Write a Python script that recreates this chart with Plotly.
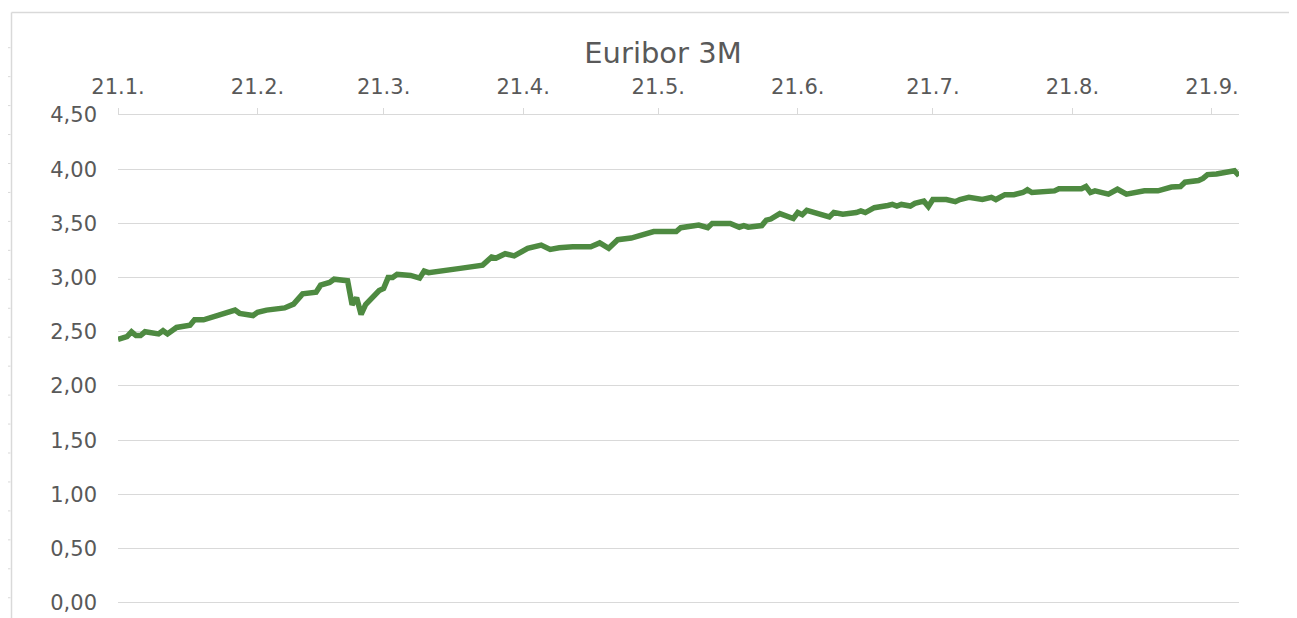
import plotly.graph_objects as go

title_text = "Euribor 3M"

dates = [
    "2023-01-21", "2023-01-23", "2023-01-24", "2023-01-25", "2023-01-26", "2023-01-27",
    "2023-01-30", "2023-01-31", "2023-02-01", "2023-02-03", "2023-02-06", "2023-02-07",
    "2023-02-09", "2023-02-13", "2023-02-16", "2023-02-17", "2023-02-20", "2023-02-21",
    "2023-02-23", "2023-02-27", "2023-03-01", "2023-03-03", "2023-03-06", "2023-03-07",
    "2023-03-09", "2023-03-10", "2023-03-13", "2023-03-14", "2023-03-15", "2023-03-16",
    "2023-03-17", "2023-03-20", "2023-03-21", "2023-03-22", "2023-03-23", "2023-03-24",
    "2023-03-27", "2023-03-29", "2023-03-30", "2023-03-31", "2023-04-04", "2023-04-06",
    "2023-04-07", "2023-04-12", "2023-04-14", "2023-04-15", "2023-04-17", "2023-04-19",
    "2023-04-22", "2023-04-25", "2023-04-27", "2023-04-29", "2023-05-02", "2023-05-06",
    "2023-05-08", "2023-05-10", "2023-05-12", "2023-05-15", "2023-05-17", "2023-05-18",
    "2023-05-20", "2023-05-25", "2023-05-26", "2023-05-30", "2023-06-01", "2023-06-02",
    "2023-06-06", "2023-06-08", "2023-06-09", "2023-06-10", "2023-06-13", "2023-06-14",
    "2023-06-15", "2023-06-17", "2023-06-20", "2023-06-21", "2023-06-22", "2023-06-23",
    "2023-06-28", "2023-06-29", "2023-07-01", "2023-07-04", "2023-07-05", "2023-07-06",
    "2023-07-08", "2023-07-11", "2023-07-12", "2023-07-13", "2023-07-14", "2023-07-16",
    "2023-07-17", "2023-07-19", "2023-07-20", "2023-07-21", "2023-07-24", "2023-07-26",
    "2023-07-27", "2023-07-29", "2023-08-01", "2023-08-03", "2023-08-04", "2023-08-06",
    "2023-08-08", "2023-08-10", "2023-08-11", "2023-08-12", "2023-08-15", "2023-08-17",
    "2023-08-18", "2023-08-23", "2023-08-24", "2023-08-25", "2023-08-26", "2023-08-29",
    "2023-08-31", "2023-09-02", "2023-09-06", "2023-09-09", "2023-09-12", "2023-09-14",
    "2023-09-15", "2023-09-18", "2023-09-19", "2023-09-20", "2023-09-22", "2023-09-23",
    "2023-09-25", "2023-09-26", "2023-09-27",
]

rates = [
    2.43, 2.456, 2.50, 2.465, 2.465, 2.50,
    2.48, 2.51, 2.48, 2.54, 2.56, 2.61,
    2.61, 2.66, 2.70, 2.67, 2.65, 2.68,
    2.70, 2.72, 2.755, 2.85, 2.865, 2.93,
    2.955, 2.985, 2.97, 2.75, 2.815, 2.66,
    2.75, 2.88, 2.90, 3.00, 3.00, 3.03,
    3.02, 2.995, 3.06, 3.045, 3.065, 3.07,
    3.085, 3.115, 3.19, 3.18, 3.22, 3.20,
    3.27, 3.30, 3.26, 3.275, 3.285, 3.285,
    3.32, 3.27, 3.35, 3.365, 3.39, 3.39,
    3.425, 3.425, 3.46, 3.485, 3.46, 3.50,
    3.50, 3.465, 3.48, 3.465, 3.48, 3.53,
    3.54, 3.59, 3.545, 3.60, 3.58, 3.62,
    3.56, 3.60, 3.585, 3.60, 3.615, 3.60,
    3.645, 3.665, 3.675, 3.66, 3.675, 3.66,
    3.685, 3.705, 3.655, 3.72, 3.72, 3.70,
    3.72, 3.74, 3.72, 3.74, 3.72, 3.765,
    3.765, 3.785, 3.81, 3.785, 3.80, 3.80,
    3.82, 3.82, 3.84, 3.785, 3.80, 3.77,
    3.815, 3.77, 3.80, 3.80, 3.835, 3.84,
    3.88, 3.895, 3.915, 3.95, 3.955, 3.96,
    3.975, 3.985, 3.94,
]

x_tick_dates = ["2023-01-21", "2023-02-21", "2023-03-21", "2023-04-21", "2023-05-21",
                "2023-06-21", "2023-07-21", "2023-08-21", "2023-09-21"]
x_tick_labels = ["21.1.", "21.2.", "21.3.", "21.4.", "21.5.", "21.6.", "21.7.", "21.8.", "21.9."]

y_tick_values = [0, 0.5, 1.0, 1.5, 2.0, 2.5, 3.0, 3.5, 4.0, 4.5]
y_tick_labels = ["0,00", "0,50", "1,00", "1,50", "2,00", "2,50", "3,00", "3,50", "4,00", "4,50"]

TEXT = "#595959"
GRID = "#D9D9D9"
FONT = "DejaVu Sans"

fig = go.Figure()
fig.add_trace(go.Scatter(
    x=dates, y=rates, mode="lines",
    line=dict(color="#4E8A41", width=5.5, shape="linear"),
    showlegend=False, hoverinfo="x+y",
))

# page body has an 8px margin; work in window pixels and shift
OFF = 8
W, H = 1297 - OFF, 618 - OFF
L, R, T, B = 118 - OFF, 1239 - OFF, 115 - OFF, 606 - OFF

def px(X):
    return (X - OFF - L) / (R - L)

def py(Y):
    return (B - (Y - OFF)) / (B - T)

shapes = [
    dict(type="line", xref="paper", yref="paper", x0=px(11.5), x1=px(11.5), y0=py(640), y1=py(12.5),
         line=dict(color=GRID, width=1.5)),
    dict(type="line", xref="paper", yref="paper", x0=px(11.5), x1=px(1300), y0=py(12.5), y1=py(12.5),
         line=dict(color=GRID, width=1.5)),
]
for i in range(20):
    yy = 47.7 + i * 28.95
    shapes.append(dict(type="line", xref="paper", yref="paper", x0=px(7.5), x1=px(10.5),
                       y0=py(yy), y1=py(yy), line=dict(color=GRID, width=1)))

fig.update_layout(
    width=W, height=H,
    margin=dict(l=L, r=W - R, t=T, b=H - B, pad=0, autoexpand=False),
    paper_bgcolor="white", plot_bgcolor="white",
    title=dict(text=title_text, x=(663 - OFF) / W, xref="container", xanchor="center",
               y=1 - (53 - OFF) / H, yref="container", yanchor="middle",
               font=dict(family=FONT, size=29, color=TEXT)),
    xaxis=dict(
        type="date", side="top", automargin=False,
        range=["2023-01-21", "2023-09-27"],
        tickvals=x_tick_dates, ticktext=x_tick_labels,
        ticks="outside", ticklen=6, tickwidth=1.3, tickcolor=GRID,
        showline=True, linecolor=GRID, linewidth=1.3,
        showgrid=False, zeroline=False,
        tickfont=dict(family=FONT, size=21, color=TEXT),
        ticklabelstandoff=5,
    ),
    yaxis=dict(
        range=[-0.03, 4.5], automargin=False,
        tickvals=y_tick_values, ticktext=y_tick_labels,
        showgrid=True, gridcolor=GRID, gridwidth=1.3,
        zeroline=False, showline=False, ticks="",
        tickfont=dict(family=FONT, size=21, color=TEXT),
        ticklabelstandoff=20,
    ),
    shapes=shapes,
)

fig.write_html("out.html")
